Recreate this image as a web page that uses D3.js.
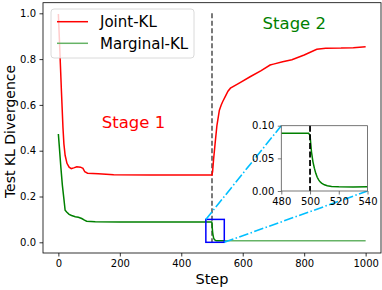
<!DOCTYPE html>
<html>
<head>
<meta charset="utf-8">
<script src="https://cdn.jsdelivr.net/npm/d3@7"></script>
<style>
  html, body { margin: 0; padding: 0; background: #fff; }
  svg { display: block; font-family: "DejaVu Sans", sans-serif; }
</style>
</head>
<body>
<svg id="chart" width="382" height="290"></svg>
<script>
// ---- data ----
const jointSteps = [0,2,5,10,15,18,22,28,35,42,50,60,72,80,86,95,130,180,300,400,500,502,505,510,516,524,530,535,543,552,560,590,624,660,689,700,730,760,800,841,870,920,960,1000];
const jointVals  = [0.997,0.93,0.83,0.66,0.5,0.43,0.38,0.345,0.328,0.322,0.325,0.33,0.328,0.323,0.308,0.302,0.299,0.295,0.294,0.294,0.294,0.31,0.36,0.43,0.51,0.577,0.60,0.615,0.636,0.66,0.673,0.696,0.723,0.75,0.774,0.778,0.788,0.797,0.818,0.843,0.847,0.848,0.85,0.854];

const marginalSteps = [0,3,8,13,18,22,27,35,43,55,65,76,85,92,120,200,300,400,480,499,500,501,502,503,504,505,506,507,508,510,512,515,520,530,540,600,700,800,900,1000];
const marginalVals  = [0.473,0.42,0.33,0.25,0.19,0.14,0.132,0.122,0.117,0.112,0.109,0.104,0.097,0.092,0.09,0.089,0.0885,0.0885,0.0885,0.0885,0.085,0.06,0.045,0.035,0.027,0.021,0.017,0.014,0.012,0.0095,0.008,0.007,0.0065,0.0063,0.0065,0.0064,0.0063,0.0063,0.0063,0.0063];

const seriesNames = ["Joint-KL", "Marginal-KL"];
const stageLabels = ["Stage 1", "Stage 2"];
const stageSplit = 500;
const zoomX = [480, 540];
const zoomY = [0, 0.10];

const mainXTicks = [0, 200, 400, 600, 800, 1000];
const mainYTicks = [0.0, 0.2, 0.4, 0.6, 0.8, 1.0];
const insetXTicks = [480, 500, 520, 540];
const insetYTicks = [0.00, 0.05, 0.10];

// ---- layout ----
const svg = d3.select("#chart");
const M = { left: 43, right: 381, top: 2.7, bottom: 253 };
const x = d3.scaleLinear().domain([-50, 1050]).range([M.left, M.right]);
const y = d3.scaleLinear().domain([-0.0467, 1.0463]).range([M.bottom, M.top]);

const joint = jointSteps.map((s, i) => ({ s, v: jointVals[i] }));
const marginal = marginalSteps.map((s, i) => ({ s, v: marginalVals[i] }));

const RED = "#ff0000", GREEN = "#008000", LIGHTGREEN = "#66b366";

function styleAxis(g, color) {
  g.select(".domain").remove();
  g.selectAll(".tick line").attr("stroke", color).attr("stroke-width", 0.8);
  g.selectAll(".tick text").attr("fill", "#000").attr("font-size", 10)
    .attr("font-family", "DejaVu Sans");
}

// main axes
const gx = svg.append("g").attr("transform", `translate(0,${M.bottom})`)
  .call(d3.axisBottom(x).tickValues(mainXTicks).tickSize(3.5).tickPadding(3.5).tickFormat(d3.format("d")));
styleAxis(gx, "#000");
const gy = svg.append("g").attr("transform", `translate(${M.left},0)`)
  .call(d3.axisLeft(y).tickValues(mainYTicks).tickSize(3.5).tickPadding(3.5).tickFormat(d3.format(".1f")));
styleAxis(gy, "#000");

const line = d3.line().x(d => x(d.s)).y(d => y(d.v));

// vertical stage divider
svg.append("line")
  .attr("x1", x(stageSplit)).attr("x2", x(stageSplit))
  .attr("y1", y(1.0)).attr("y2", y(0))
  .attr("stroke", "#222").attr("stroke-width", 1.2).attr("stroke-dasharray", "5,2.5");

// lines
svg.append("path").datum(joint).attr("d", line)
  .attr("fill", "none").attr("stroke", RED).attr("stroke-width", 1.5);
svg.append("path").datum(marginal.filter(d => d.s >= zoomX[1]))
  .attr("d", line).attr("fill", "none").attr("stroke", LIGHTGREEN).attr("stroke-width", 1.5);
svg.append("path").datum(marginal.filter(d => d.s <= zoomX[1]))
  .attr("d", line).attr("fill", "none").attr("stroke", GREEN).attr("stroke-width", 1.5);

// zoom box
svg.append("rect")
  .attr("x", x(zoomX[0])).attr("y", y(zoomY[1]))
  .attr("width", x(zoomX[1]) - x(zoomX[0])).attr("height", y(zoomY[0]) - y(zoomY[1]))
  .attr("fill", "none").attr("stroke", "#0000ff").attr("stroke-width", 1.5);

// inset
const I = { left: 281.3, right: 367.5, top: 125.7, bottom: 191 };
const ix = d3.scaleLinear().domain(zoomX).range([I.left, I.right]);
const iy = d3.scaleLinear().domain(zoomY).range([I.bottom, I.top]);

// connectors
const conn = [
  [x(zoomX[0]), y(zoomY[1]), I.left, I.top],
  [x(zoomX[1]), y(zoomY[0]), I.right, I.bottom]
];
svg.selectAll(".conn").data(conn).enter().append("line")
  .attr("x1", d => d[0]).attr("y1", d => d[1]).attr("x2", d => d[2]).attr("y2", d => d[3])
  .attr("stroke", "#00bfff").attr("stroke-width", 1.6).attr("stroke-dasharray", "9.6,2.4,1.5,2.4");

const ig = svg.append("g");
ig.append("rect").attr("x", I.left).attr("y", I.top)
  .attr("width", I.right - I.left).attr("height", I.bottom - I.top).attr("fill", "#fff");
svg.append("clipPath").attr("id", "iclip").append("rect")
  .attr("x", I.left).attr("y", I.top).attr("width", I.right - I.left).attr("height", I.bottom - I.top);
const iline = d3.line().x(d => ix(d.s)).y(d => iy(d.v));
ig.append("path").datum(marginal.filter(d => d.s >= 470 && d.s <= 550))
  .attr("d", iline).attr("clip-path", "url(#iclip)")
  .attr("fill", "none").attr("stroke", GREEN).attr("stroke-width", 1.5);
ig.append("line")
  .attr("x1", ix(stageSplit)).attr("x2", ix(stageSplit))
  .attr("y1", I.top).attr("y2", I.bottom)
  .attr("stroke", "#000").attr("stroke-width", 1.8).attr("stroke-dasharray", "6,2.6");

const igx = ig.append("g").attr("transform", `translate(0,${I.bottom})`)
  .call(d3.axisBottom(ix).tickValues(insetXTicks).tickSize(3.5).tickPadding(3.5).tickFormat(d3.format("d")));
styleAxis(igx, "#555");
const igy = ig.append("g").attr("transform", `translate(${I.left},0)`)
  .call(d3.axisLeft(iy).tickValues(insetYTicks).tickSize(3.5).tickPadding(3.5).tickFormat(d3.format(".2f")));
styleAxis(igy, "#555");
ig.append("rect").attr("x", I.left).attr("y", I.top)
  .attr("width", I.right - I.left).attr("height", I.bottom - I.top)
  .attr("fill", "none").attr("stroke", "#555").attr("stroke-width", 0.8);

// main frame
svg.append("rect").attr("x", M.left).attr("y", M.top)
  .attr("width", M.right - M.left).attr("height", M.bottom - M.top)
  .attr("fill", "none").attr("stroke", "#000").attr("stroke-width", 0.8);

// stage labels
svg.append("text").attr("x", 133.5).attr("y", 128.3).attr("text-anchor", "middle")
  .attr("font-size", 16.5).attr("fill", RED).text(stageLabels[0]);
svg.append("text").attr("x", 294.3).attr("y", 29.3).attr("text-anchor", "middle")
  .attr("font-size", 16.5).attr("fill", GREEN).text(stageLabels[1]);

// axis titles
svg.append("text").attr("x", (M.left + M.right) / 2).attr("y", 284).attr("text-anchor", "middle")
  .attr("font-size", 14.5).attr("fill", "#000").text("Step");
svg.append("text").attr("transform", "translate(15,131.5) rotate(-90)").attr("text-anchor", "middle")
  .attr("font-size", 14).attr("fill", "#000").text("Test KL Divergence");

// legend
const lg = svg.append("g");
lg.append("rect").attr("x", 51).attr("y", 9).attr("width", 143).attr("height", 49).attr("rx", 3)
  .attr("fill", "#fff").attr("fill-opacity", 0.8).attr("stroke", "#d0d0d0").attr("stroke-width", 0.8);
const legColors = [RED, LIGHTGREEN];
seriesNames.forEach((name, i) => {
  const ly = 21.7 + i * 21.6;
  lg.append("line").attr("x1", 57).attr("x2", 88).attr("y1", ly).attr("y2", ly)
    .attr("stroke", legColors[i]).attr("stroke-width", 1.5);
  lg.append("text").attr("x", 100).attr("y", ly + 5.4).attr("font-size", 15)
    .attr("fill", "#000").text(name);
});
</script>
</body>
</html>
